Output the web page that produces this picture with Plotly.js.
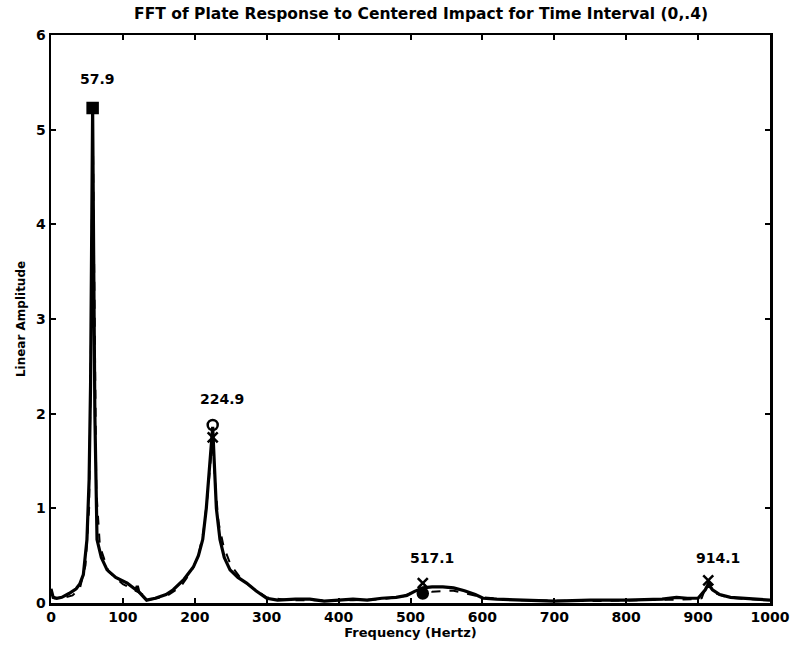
<!DOCTYPE html>
<html>
<head>
<meta charset="utf-8">
<script src="https://cdn.plot.ly/plotly-3.0.1.min.js"></script>
<style>html,body{margin:0;padding:0;background:#fff;}#chart{width:796px;height:657px;}</style>
</head>
<body>
<div id="chart"></div>
<script>
// Solid FFT curve
const freqA = [0,3,8,15,25,35,40,45,50,53,55,56.5,57.9,59.5,61,64,70,78,90,106,118,120,122,133,145,160,170,185,198,205,211,216,220,222.5,224.9,227,230,235,241,249,260,272,285,300,315,340,360,380,400,420,440,460,480,495,505,517.1,530,545,560,575,590,601,620,650,700,750,800,850,870,885,900,910,914.1,920,930,945,960,980,1000];
const ampA = [0.15,0.06,0.05,0.06,0.1,0.15,0.2,0.3,0.67,1.3,2.3,3.7,5.23,3.5,2.0,0.67,0.48,0.35,0.27,0.21,0.14,0.18,0.12,0.03,0.05,0.09,0.14,0.25,0.38,0.5,0.67,1.0,1.35,1.6,1.86,1.5,1.0,0.67,0.48,0.35,0.27,0.21,0.13,0.05,0.03,0.04,0.04,0.02,0.03,0.04,0.03,0.05,0.06,0.08,0.12,0.16,0.17,0.17,0.16,0.13,0.09,0.05,0.04,0.03,0.02,0.03,0.03,0.04,0.06,0.05,0.05,0.14,0.2,0.14,0.09,0.06,0.05,0.04,0.03];
// Dashed companion curve
const freqB = [0,5,15,30,40,48,53,56,57.9,60,63,68,80,100,120,140,160,180,195,205,212,218,222,224.9,228,233,240,250,265,280,300,330,370,420,460,490,505,517.1,530,560,600,650,750,850,900,905,914.1,925,940,970,1000];
const ampB = [0.1,0.05,0.05,0.08,0.15,0.4,1.0,3.0,5.2,3.2,1.2,0.6,0.33,0.2,0.12,0.04,0.07,0.17,0.33,0.5,0.75,1.15,1.5,1.75,1.3,0.85,0.6,0.4,0.25,0.16,0.06,0.03,0.03,0.03,0.04,0.07,0.12,0.21,0.12,0.13,0.06,0.03,0.02,0.03,0.04,0.05,0.24,0.1,0.06,0.04,0.03];
// Peak markers
const markerFreq = [57.9, 224.9, 224.9, 517.1, 517.1, 914.1];
const markerAmp = [5.23, 1.88, 1.75, 0.21, 0.1, 0.24];
const markerSymbol = ['square', 'circle-open', 'x-thin-open', 'x-thin-open', 'circle', 'x-thin-open'];
// Peak labels
const peakFreq = [57.9, 224.9, 517.1, 914.1];
const labelY = [5.53, 2.16, 0.48, 0.48];
const labelText = ['57.9', '224.9', '517.1', '914.1'];

const F = 'DejaVu Sans, Liberation Sans, Arial, sans-serif';
const traces = [
  {x: freqA, y: ampA, type: 'scatter', mode: 'lines', line: {color: '#000', width: 3.2}, hoverinfo: 'skip'},
  {x: freqB, y: ampB, type: 'scatter', mode: 'lines', line: {color: '#000', width: 2, dash: 'dash'}, hoverinfo: 'skip'},
  {x: markerFreq, y: markerAmp, type: 'scatter', mode: 'markers',
   marker: {symbol: markerSymbol, size: 10, color: '#000', line: {color: '#000', width: 2.5}}}
];
const annotations = peakFreq.map((f, i) => ({
  x: f - 20, y: labelY[i], xref: 'x', yref: 'y', text: labelText[i], showarrow: false,
  xanchor: 'left', yanchor: 'middle', font: {family: F, size: 14, color: '#000', weight: 700}
}));
const axisCommon = {
  showgrid: false, zeroline: false, showline: true, linecolor: '#000', linewidth: 2.5,
  mirror: 'ticks', ticks: 'inside', ticklen: 5, tickwidth: 2, tickcolor: '#000',
  tickfont: {family: F, size: 14, color: '#000', weight: 700}
};
const layout = {
  width: 796, height: 657,
  margin: {l: 51, r: 26, t: 35, b: 54},
  paper_bgcolor: '#fff', plot_bgcolor: '#fff',
  showlegend: false,
  title: {text: 'FFT of Plate Response to Centered Impact for Time Interval (0,.4)', x: 0.529, xanchor: 'center', y: 0.98, yanchor: 'middle',
          font: {family: F, size: 15.5, color: '#000', weight: 700}},
  xaxis: Object.assign({}, axisCommon, {range: [0, 1000], dtick: 100, tick0: 0,
          title: {text: 'Frequency (Hertz)', standoff: 0, font: {family: F, size: 13, color: '#000', weight: 700}}}),
  yaxis: Object.assign({}, axisCommon, {range: [0, 6], dtick: 1, tick0: 0,
          title: {text: 'Linear Amplitude', standoff: 8, font: {family: F, size: 12, color: '#000', weight: 700}}}),
  annotations: annotations
};
Plotly.newPlot('chart', traces, layout, {staticPlot: true, displayModeBar: false});
</script>
</body>
</html>
